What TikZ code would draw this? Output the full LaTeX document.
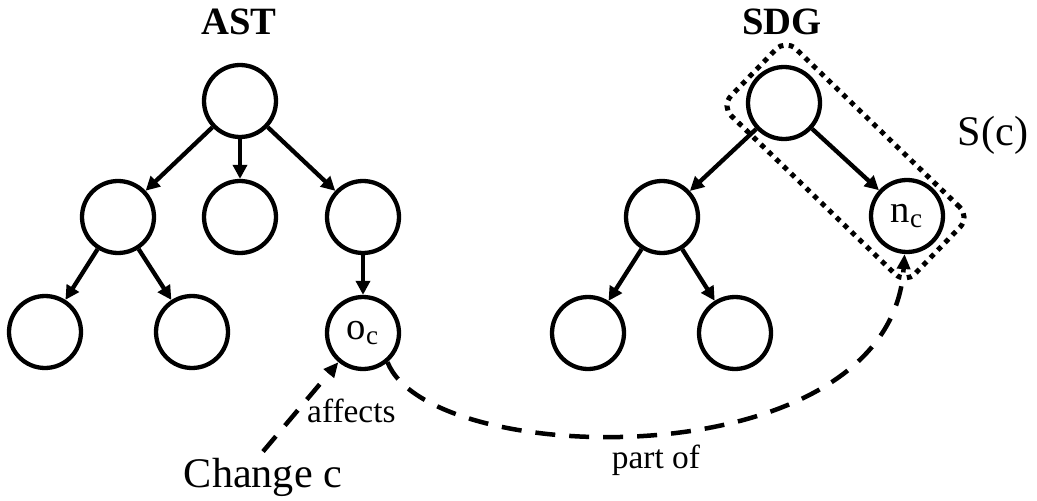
\documentclass[tikz,border=0pt]{standalone}
\usepackage{fontspec}
\setmainfont{Liberation Serif}
\usetikzlibrary{arrows.meta}
\begin{document}
\begin{tikzpicture}[x=0.02cm,y=-0.02cm,
  vertex/.style={circle,draw,line width=0.086cm,minimum size=1.44cm,inner sep=0pt,
    font=\fontsize{22}{24}\selectfont},
  edge/.style={line width=0.086cm,-{Triangle[length=0.28cm,width=0.28cm]}},
  link/.style={line width=0.09cm,dash pattern=on 0.4cm off 0.28cm,
    -{Triangle[length=0.3cm,width=0.26cm]}},
  region/.style={draw,line width=0.1cm,dash pattern=on 0.1cm off 0.11cm,
    rounded corners=0.28cm,inner sep=0pt,minimum width=5.12cm,minimum height=1.86cm},
  title/.style={font=\fontsize{22}{26}\selectfont\bfseries,anchor=base},
  big/.style={font=\fontsize{24}{28}\selectfont,anchor=base},
  small/.style={font=\fontsize{19}{22}\selectfont,anchor=base}]
\useasboundingbox (0,0) rectangle (1037,500);

% titles
\node[title] (tast) at (239,35) {AST};
\node[title] (tsdg) at (782,35) {SDG};

% abstract syntax tree
\node[vertex] (a0) at (240,101) {};
\node[vertex] (a1) at (118,217) {};
\node[vertex] (a2) at (240,217) {};
\node[vertex] (a3) at (363,217) {};
\node[vertex] (a4) at (45,332) {};
\node[vertex] (a5) at (192,332) {};
\node[vertex] (oc) at (363,333) {o\textsubscript{c}};
\draw[edge] (a0) -- (a1);
\draw[edge] (a0) -- (a2);
\draw[edge] (a0) -- (a3);
\draw[edge] (a1) -- (a4);
\draw[edge] (a1) -- (a5);
\draw[edge] (a3) -- (oc);

% system dependence graph
\node[vertex] (s0) at (784,103) {};
\node[vertex] (s1) at (662,217) {};
\node[vertex] (nc) at (907,216) {n\textsubscript{c}};
\node[vertex] (s3) at (588,333) {};
\node[vertex] (s4) at (735,333) {};
\draw[edge] (s0) -- (s1);
\draw[edge] (s0) -- (nc);
\draw[edge] (s1) -- (s3);
\draw[edge] (s1) -- (s4);

% slice of the change
\node[region,rotate=-44] (sc) at (845.5,161.5) {};
\node[big] (sclabel) at (993,145) {S(c)};

% change and its links
\node[big] (chg) at (263,487) {Change c};
\node[small,anchor=base west] (aff) at (301,422) {affects};
\node[small] (partof) at (656,468) {part of};
\draw[link] (chg.north) -- (oc);
\draw[link] (oc.-50) .. controls (430,470) and (890,480) .. (nc);
\end{tikzpicture}
\end{document}
